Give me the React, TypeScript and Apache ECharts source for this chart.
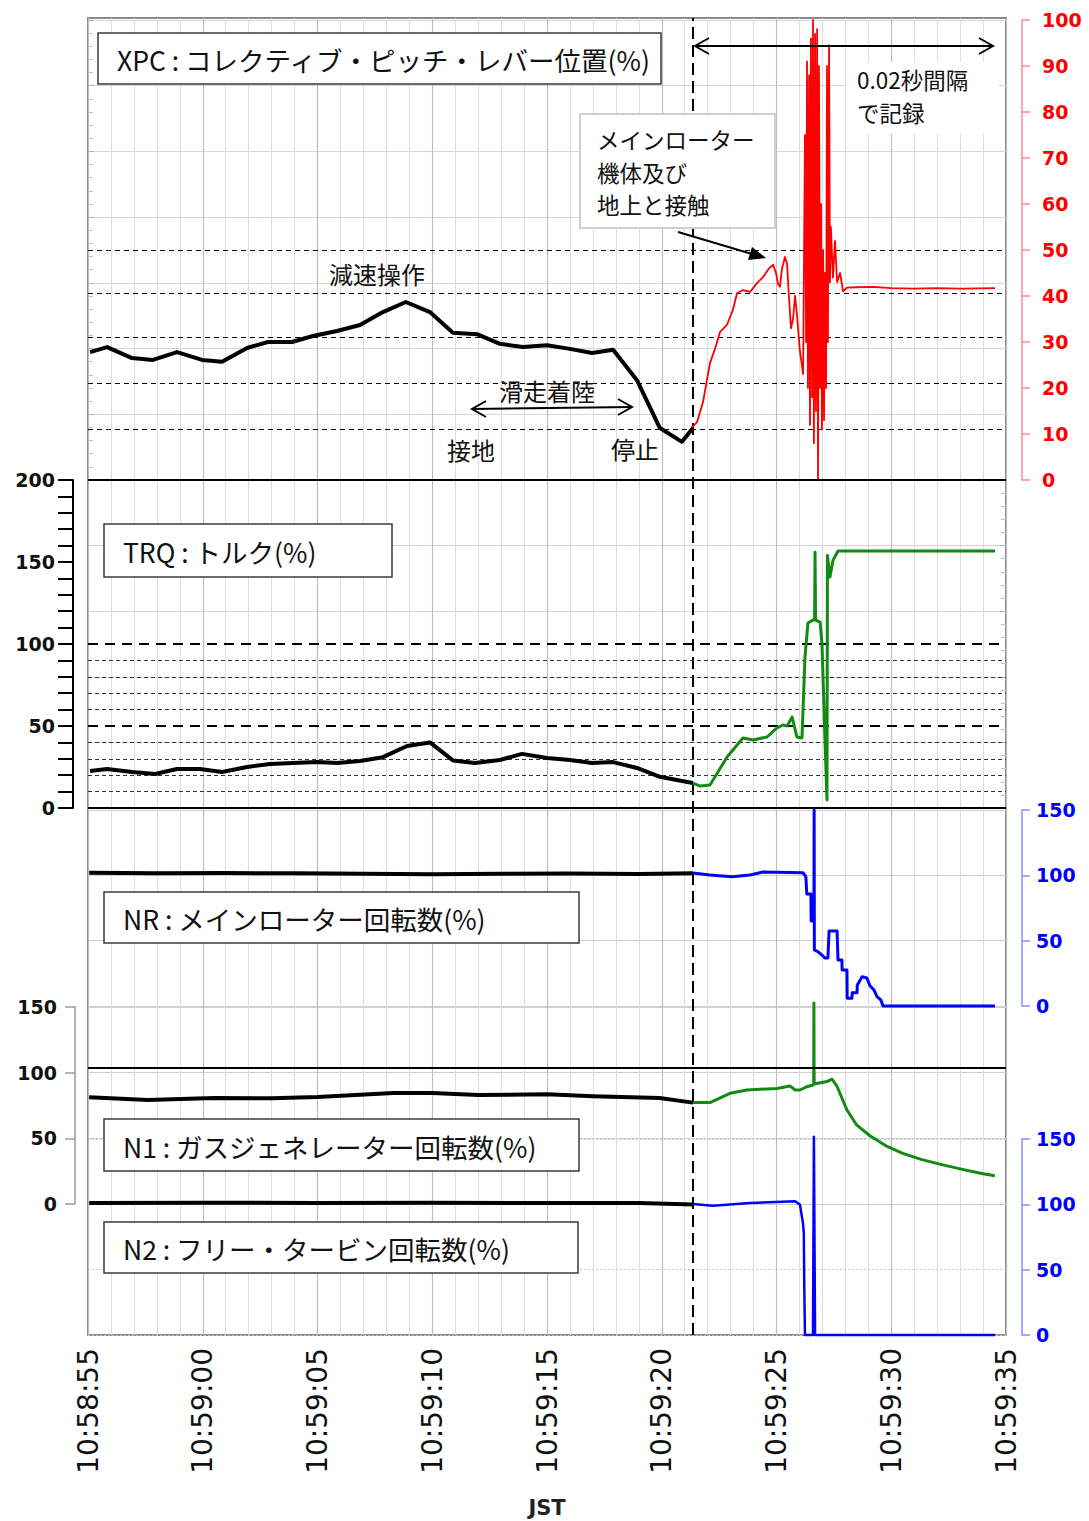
import React, { useEffect, useRef } from "react";
import * as echarts from "echarts";

// ---- DATA (t = seconds after 10:58:55 JST) ----
const TIME_LABELS = ["10:58:55", "10:59:00", "10:59:05", "10:59:10", "10:59:15", "10:59:20", "10:59:25", "10:59:30", "10:59:35"];
const TRANSITION_T = 26.36; // start of 0.02 s recording

const XPC_FDR: number[][] = [
  [0.09, 27.8], [0.83, 28.9], [1.92, 26.5], [2.83, 26.1], [3.88, 27.8], [4.97, 26.1], [5.84, 25.7],
  [6.93, 28.7], [7.84, 30], [8.89, 30], [9.8, 31.3], [10.85, 32.4], [11.85, 33.7], [12.85, 36.5],
  [13.85, 38.7], [14.9, 36.5], [15.9, 32], [16.95, 31.7], [17.95, 29.6], [18.95, 28.9], [20.0, 29.3],
  [21.0, 28.5], [21.96, 27.6], [22.88, 28.3], [23.92, 21.7], [24.92, 11.3], [25.88, 8.3], [26.36, 11.3],
];
const XPC_HI: number[][] = [
  [26.32, 11.5], [26.54, 12.6], [26.8, 17], [27.1, 25.4], [27.32, 28.5], [27.54, 32.2], [27.84, 33.7],
  [28.1, 37], [28.28, 40.6], [28.54, 41.3], [28.85, 40.9], [29.15, 42.8], [29.41, 44.1], [29.67, 46],
  [29.85, 46.8], [29.98, 45], [30.07, 42.5], [30.15, 42], [30.24, 46], [30.37, 48.5], [30.46, 47],
  [30.54, 40], [30.63, 33], [30.72, 35], [30.81, 40], [30.89, 36], [31.02, 28], [31.16, 23],
  [31.24, 75], [31.29, 30], [31.33, 91], [31.37, 20], [31.42, 88], [31.46, 12], [31.5, 96], [31.55, 18],
  [31.59, 100], [31.63, 8], [31.68, 97], [31.72, 15], [31.77, 98], [31.81, 0], [31.85, 90], [31.9, 20],
  [31.94, 60], [31.98, 11], [32.03, 50], [32.07, 13], [32.11, 45], [32.16, 20], [32.2, 90], [32.24, 30],
  [32.29, 94.5], [32.33, 43], [32.37, 55], [32.46, 44], [32.55, 52], [32.64, 43], [32.77, 45], [32.9, 41],
  [33.07, 41.8], [33.5, 41.9], [34.2, 42], [35, 41.7], [36, 41.6], [37, 41.7], [38, 41.6], [39.52, 41.7],
];
const XPC_REF_LINES = [11, 21, 31, 40.7, 50];

const TRQ_FDR: number[][] = [
  [0.09, 22.6], [0.83, 23.8], [1.92, 22], [2.92, 20.7], [3.88, 23.8], [4.88, 23.8], [5.84, 22], [6.93, 25],
  [7.93, 26.8], [8.93, 27.4], [9.98, 28], [10.85, 27.4], [11.85, 28.6], [12.85, 31], [13.9, 37.8],
  [14.9, 40], [15.9, 29], [16.86, 27.4], [17.95, 29.3], [18.91, 33], [20.0, 30.5], [21.0, 29.3],
  [21.96, 27.4], [22.88, 28], [23.92, 24.4], [24.92, 19], [25.88, 16.5], [26.36, 15.2],
];
const TRQ_HI: number[][] = [
  [26.36, 15.2], [26.67, 13.4], [27.1, 14], [27.41, 21], [27.84, 31], [28.1, 35.4], [28.54, 42.7],
  [28.98, 41.5], [29.59, 43.3], [30.02, 48.8], [30.28, 50.6], [30.46, 50], [30.68, 55.5], [30.89, 43.3],
  [31.11, 42.7], [31.24, 92], [31.37, 112.8], [31.59, 114.6], [31.66, 114.6], [31.68, 156], [31.7, 114.6],
  [31.9, 113.4], [31.98, 100.6], [32.11, 43], [32.2, 4.9], [32.22, 154], [32.33, 140.8], [32.46, 151],
  [32.68, 156.7], [39.52, 156.7],
];
const TRQ_REF_MAJOR = [50, 100];
const TRQ_REF_MINOR = [10, 20, 30, 40, 60, 70, 80, 90];

const NR_FDR: number[][] = [
  [0.05, 102], [3, 101.6], [6, 101.8], [9, 101.5], [12, 101.2], [15, 100.9], [18, 101.2], [21, 101.4],
  [24, 101.0], [26.36, 101.6],
];
const NR_HI: number[][] = [
  [26.36, 101.8], [27.1, 100.2], [28.06, 99], [28.85, 100.2], [29.41, 102.5], [31.15, 102], [31.28, 99],
  [31.32, 85.7], [31.5, 85.7], [31.51, 65], [31.63, 65], [31.64, 150], [31.65, 43], [31.81, 41.5],
  [31.98, 39], [32.11, 36.7], [32.24, 36.7], [32.29, 57.4], [32.64, 57.4], [32.68, 35.2], [32.85, 35.2],
  [32.86, 27.5], [33.07, 27.5], [33.08, 6], [33.29, 6], [33.3, 10.2], [33.51, 10.2], [33.52, 16],
  [33.73, 22.4], [33.94, 21.4], [34.07, 15.5], [34.25, 12.2], [34.38, 7.1], [34.55, 4.6], [34.64, 0],
  [39.52, 0],
];

const N1_FDR: number[][] = [
  [0.05, 81.3], [2.6, 79.2], [5.5, 80.7], [8, 80.5], [10, 81.5], [13.3, 84.5], [15, 84.5], [17, 83],
  [20, 83.5], [22, 82], [24.9, 80.7], [26.36, 77.2],
];
const N1_HI: number[][] = [
  [26.36, 77.2], [27.1, 77.2], [27.97, 84.3], [28.71, 86.8], [30.02, 88], [30.59, 89.9], [30.81, 86.8],
  [31.02, 86.8], [31.33, 89.3], [31.59, 90.6], [31.62, 91], [31.63, 153], [31.64, 91.4], [32.2, 93.2],
  [32.42, 95], [32.64, 89.5], [33.07, 71.6], [33.5, 60], [34.07, 52], [34.8, 44], [35.5, 38.5],
  [36.3, 34], [37.2, 30], [38.2, 26], [39.0, 23], [39.52, 21.5],
];

const N2_FDR: number[][] = [
  [0.05, 101], [5, 101.3], [10, 101], [15, 101.2], [20, 101], [24, 101], [26.36, 99.8],
];
const N2_HI: number[][] = [
  [26.36, 100.3], [27.23, 99], [28.85, 101], [30.81, 102.3], [31.02, 99.8], [31.15, 86], [31.19, 78.4],
  [31.21, 37.5], [31.24, 0], [31.59, 0], [31.63, 151.8], [31.68, 0], [39.52, 0],
];

// ---- STYLE ----
const NUM_FONT = "'DejaVu Sans', Verdana, sans-serif";
const JP_FONT = "'Noto Sans CJK JP', 'Noto Sans', sans-serif";
const RED = "#ff0000";
const BLUE = "#0000ff";
const GREEN = "#138a13";

const PLOT_L = 88;
const PLOT_W = 918;

function lineSeries(data: number[][], idx: number, yIdx: number, color: string, width: number, extra: any = {}) {
  return {
    type: "line",
    xAxisIndex: idx,
    yAxisIndex: yIdx,
    data,
    showSymbol: false,
    symbol: "none",
    clip: false,
    lineStyle: { color, width, join: "round" },
    z: 5,
    ...extra,
  };
}

function refLines(values: number[], type: any, width: number, color = "#000") {
  return values.map((v) => ({ yAxis: v, lineStyle: { type, width, color } }));
}

export default function App() {
  const ref = useRef<HTMLDivElement>(null);
  useEffect(() => {
    const chart = echarts.init(ref.current!, undefined, { renderer: "svg" });
    const hiddenX = (gridIndex: number) => ({
      type: "value", gridIndex, min: 0, max: 40, show: false,
    });
    const grid = (top: number, height: number, extra: any = {}) => ({
      left: PLOT_L, width: PLOT_W, top, height, outerBoundsMode: "none", ...extra,
    });
    const option: any = {
      animation: false,
      backgroundColor: "#ffffff",
      grid: [
        grid(18, 1317, { show: true, borderColor: "#8a8a8a", borderWidth: 2, backgroundColor: "transparent" }),
        grid(20, 460),
        grid(480, 328),
        grid(810, 196),
        grid(1007, 197),
        grid(1139, 196),
      ],
      xAxis: [
        {
          type: "value", gridIndex: 0, min: 0, max: 40, interval: 5,
          axisLine: { show: false }, axisTick: { show: false },
          axisLabel: {
            rotate: 90, margin: 13, fontSize: 28, color: "#111", fontFamily: NUM_FONT,
            formatter: (v: number) => TIME_LABELS[Math.round(v / 5)] ?? "",
          },
          splitLine: { show: true, lineStyle: { color: "#bdbdbd", width: 1.2 } },
          minorTick: { show: false, splitNumber: 5 },
          minorSplitLine: { show: true, lineStyle: { color: "#dedede", width: 1 } },
          name: "JST", nameLocation: "middle", nameGap: 162,
          nameTextStyle: { fontSize: 21, fontWeight: "bold", color: "#222", fontFamily: NUM_FONT },
        },
        hiddenX(1), hiddenX(2), hiddenX(3), hiddenX(4), hiddenX(5),
      ],
      yAxis: [
        { type: "value", gridIndex: 0, min: 0, max: 1, show: false },
        // 1: XPC red right axis
        {
          type: "value", gridIndex: 1, position: "right", offset: 16, min: 0, max: 100, interval: 10,
          axisLine: { show: true, onZero: false, lineStyle: { color: "#ff8c8c", width: 1.5 } },
          axisTick: { show: true, length: 8, lineStyle: { color: "#ff8c8c", width: 1.5 } },
          axisLabel: { color: RED, fontWeight: "bold", fontSize: 19, fontFamily: NUM_FONT, margin: 20 },
          splitLine: { show: false },
        },
        // 2: XPC hidden grid
        {
          type: "value", gridIndex: 1, position: "left", min: 0, max: 7, interval: 1,
          axisLine: { show: false, onZero: false }, axisLabel: { show: false },
          axisTick: { show: true, inside: true, length: 6, lineStyle: { color: "#b0b0b0" } },
          minorTick: { show: true, splitNumber: 5, length: 5, lineStyle: { color: "#c0c0c0" } },
          splitLine: { show: true, lineStyle: { color: "#d6d6d6" } },
        },
        // 3: TRQ left axis
        {
          type: "value", gridIndex: 2, position: "left", offset: 15, min: 0, max: 200, interval: 50,
          axisLine: { show: true, onZero: false, lineStyle: { color: "#000", width: 2 } },
          axisTick: { show: true, length: 15, lineStyle: { color: "#000", width: 2 } },
          minorTick: { show: true, splitNumber: 5, length: 15, lineStyle: { color: "#000", width: 2 } },
          axisLabel: { color: "#111", fontWeight: "bold", fontSize: 19, fontFamily: NUM_FONT, margin: 18 },
          splitLine: { show: false },
        },
        // 4: TRQ hidden grid
        {
          type: "value", gridIndex: 2, position: "right", min: 0, max: 5, interval: 1,
          axisLine: { show: false, onZero: false }, axisLabel: { show: false },
          axisTick: { show: true, inside: true, length: 6, lineStyle: { color: "#b0b0b0" } },
          minorTick: { show: true, splitNumber: 5, length: 5, lineStyle: { color: "#c0c0c0" } },
          splitLine: { show: true, lineStyle: { color: "#d6d6d6" } },
        },
        // 5: NR blue right
        {
          type: "value", gridIndex: 3, position: "right", offset: 16, min: 0, max: 150, interval: 50,
          axisLine: { show: true, onZero: false, lineStyle: { color: "#8c8cff", width: 1.5 } },
          axisTick: { show: true, length: 8, lineStyle: { color: "#8c8cff", width: 1.5 } },
          axisLabel: { color: BLUE, fontWeight: "bold", fontSize: 19, fontFamily: NUM_FONT, margin: 14 },
          splitLine: { show: true, lineStyle: { color: "#cfcfcf" } },
        },
        // 6: N1 left
        {
          type: "value", gridIndex: 4, position: "left", offset: 13, min: 0, max: 150, interval: 50,
          axisLine: { show: true, onZero: false, lineStyle: { color: "#9a9a9a", width: 1.5 } },
          axisTick: { show: true, length: 10, lineStyle: { color: "#9a9a9a", width: 1.5 } },
          axisLabel: { color: "#111", fontWeight: "bold", fontSize: 19, fontFamily: NUM_FONT, margin: 18 },
          splitLine: { show: true, lineStyle: { color: "#cfcfcf" } },
        },
        // 7: N2 blue right
        {
          type: "value", gridIndex: 5, position: "right", offset: 16, min: 0, max: 150, interval: 50,
          axisLine: { show: true, onZero: false, lineStyle: { color: "#8c8cff", width: 1.5 } },
          axisTick: { show: true, length: 8, lineStyle: { color: "#8c8cff", width: 1.5 } },
          axisLabel: { color: BLUE, fontWeight: "bold", fontSize: 19, fontFamily: NUM_FONT, margin: 14 },
          splitLine: { show: true, lineStyle: { color: "#c8c8c8", type: [2, 2] } },
        },
      ],
      series: [
        {
          type: "line", xAxisIndex: 0, yAxisIndex: 0, data: [[TRANSITION_T, -5]], symbol: "none", clip: true,
          markLine: {
            silent: true, symbol: "none", label: { show: false },
            lineStyle: { color: "#000", width: 2, type: [12, 6] },
            data: [{ xAxis: TRANSITION_T }],
          },
          z: 6,
        },
        lineSeries(XPC_FDR, 1, 1, "#000", 4, {
          markLine: {
            silent: true, symbol: "none", label: { show: false },
            data: refLines(XPC_REF_LINES, [5, 4], 1.2), z: 2,
          },
        }),
        lineSeries(XPC_HI, 1, 1, RED, 1.8),
        lineSeries(TRQ_FDR, 2, 3, "#000", 4, {
          markLine: {
            silent: true, symbol: "none", label: { show: false },
            data: [...refLines(TRQ_REF_MAJOR, [10, 7], 2), ...refLines(TRQ_REF_MINOR, [4, 3], 1.2, "#333")],
          },
        }),
        lineSeries(TRQ_HI, 2, 3, GREEN, 3),
        lineSeries(NR_FDR, 3, 5, "#000", 4),
        lineSeries(NR_HI, 3, 5, BLUE, 3),
        lineSeries(N1_FDR, 4, 6, "#000", 4),
        lineSeries(N1_HI, 4, 6, GREEN, 3),
        lineSeries(N2_FDR, 5, 7, "#000", 4),
        lineSeries(N2_HI, 5, 7, BLUE, 2.5),
      ],
      graphic: [
        // panel separators
        ...[480, 808, 1068].map((y) => ({
          type: "line", z: 50, shape: { x1: PLOT_L, y1: y, x2: PLOT_L + PLOT_W, y2: y },
          style: { stroke: "#000", lineWidth: 2 },
        })),
        // label boxes
        ...[
          { x: 98, y: 33, w: 563, h: 51, text: "XPC : コレクティブ・ピッチ・レバー位置(%)" },
          { x: 104, y: 524, w: 288, h: 53, text: "TRQ : トルク(%)" },
          { x: 104, y: 892, w: 475, h: 51, text: "NR : メインローター回転数(%)" },
          { x: 104, y: 1119, w: 475, h: 52, text: "N1 : ガスジェネレーター回転数(%)" },
          { x: 104, y: 1222, w: 474, h: 51, text: "N2 : フリー・タービン回転数(%)" },
        ].flatMap((b) => [
          {
            type: "rect", z: 60, shape: { x: b.x, y: b.y, width: b.w, height: b.h },
            style: { fill: "#fff", stroke: "#3a3a3a", lineWidth: 1.5 },
          },
          {
            type: "text", z: 61, x: b.x + 19, y: b.y + b.h / 2 + 1,
            style: { text: b.text, fontSize: 26.5, fontFamily: JP_FONT, fill: "#111", verticalAlign: "middle", align: "left" },
          },
        ]),
        // annotation box: main rotor contact
        {
          type: "rect", z: 60, shape: { x: 580, y: 114, width: 195, height: 114 },
          style: { fill: "#fff", stroke: "#cfcfcf", lineWidth: 2 },
        },
        ...["メインローター", "機体及び", "地上と接触"].map((t, i) => ({
          type: "text", z: 61, x: 597, y: 139 + i * 32.5,
          style: { text: t, fontSize: 22.5, fontFamily: JP_FONT, fill: "#111", verticalAlign: "middle" },
        })),
        // pointer arrow
        {
          type: "line", z: 62, shape: { x1: 678, y1: 232, x2: 752, y2: 254 },
          style: { stroke: "#000", lineWidth: 2 },
        },
        {
          type: "polygon", z: 62, shape: { points: [[766, 258], [748, 260], [752, 247]] },
          style: { fill: "#000" },
        },
        // 0.02 s note
        {
          type: "rect", z: 55, shape: { x: 846, y: 62, width: 153, height: 72 },
          style: { fill: "#fff" },
        },
        {
          type: "text", z: 61, x: 857, y: 79,
          style: { text: "0.02秒間隔", fontSize: 22.5, fontFamily: JP_FONT, fill: "#111", verticalAlign: "middle" },
        },
        {
          type: "text", z: 61, x: 857, y: 112,
          style: { text: "で記録", fontSize: 22.5, fontFamily: JP_FONT, fill: "#111", verticalAlign: "middle" },
        },
        // top double arrow
        {
          type: "line", z: 62, shape: { x1: 695, y1: 46, x2: 993, y2: 46 },
          style: { stroke: "#000", lineWidth: 2 },
        },
        {
          type: "polyline", z: 62, shape: { points: [[709, 38], [695, 46], [709, 54]] },
          style: { stroke: "#000", lineWidth: 2, fill: "none" },
        },
        {
          type: "polyline", z: 62, shape: { points: [[979, 38], [993, 46], [979, 54]] },
          style: { stroke: "#000", lineWidth: 2, fill: "none" },
        },
        // ground-run double arrow
        {
          type: "line", z: 62, shape: { x1: 472, y1: 409, x2: 632, y2: 407 },
          style: { stroke: "#000", lineWidth: 2 },
        },
        {
          type: "polyline", z: 62, shape: { points: [[486, 401], [472, 409], [486, 417]] },
          style: { stroke: "#000", lineWidth: 2, fill: "none" },
        },
        {
          type: "polyline", z: 62, shape: { points: [[618, 399], [632, 407], [618, 415]] },
          style: { stroke: "#000", lineWidth: 2, fill: "none" },
        },
        ...[
          { x: 329, y: 273, t: "減速操作" },
          { x: 499, y: 390, t: "滑走着陸" },
          { x: 447, y: 449, t: "接地" },
          { x: 611, y: 448, t: "停止" },
        ].map((a) => ({
          type: "text", z: 61, x: a.x, y: a.y,
          style: { text: a.t, fontSize: 24, fontFamily: JP_FONT, fill: "#111", verticalAlign: "middle" },
        })),
      ],
    };
    chart.setOption(option);
    return () => chart.dispose();
  }, []);
  return <div ref={ref} style={{ position: "absolute", left: 0, top: 0, width: 1089, height: 1521, background: "#fff" }} />;
}
